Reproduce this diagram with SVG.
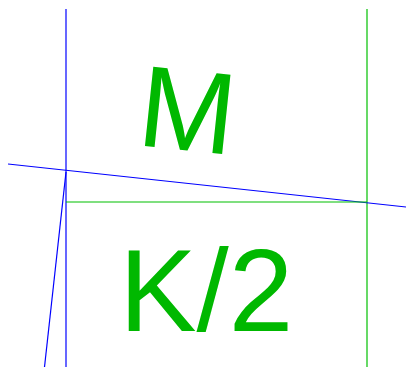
<svg xmlns="http://www.w3.org/2000/svg" width="406" height="367" viewBox="0 0 406 367">
<style>
.b{stroke:#0000ff;stroke-width:1.2;fill:none}
.g{stroke:#00c000;stroke-width:1.2;fill:none}
.t{fill:#00b800;font-family:"Liberation Sans",Arial,sans-serif;font-size:116px}
</style>
<g id="connectors">
<line class="b" x1="66" y1="9" x2="66" y2="367"/>
<line class="g" x1="367" y1="9" x2="367" y2="367"/>
<line class="b" x1="8" y1="164" x2="406" y2="207"/>
<line class="g" x1="66" y1="202" x2="367" y2="202"/>
<line class="b" x1="66" y1="172" x2="44.5" y2="367"/>
</g>
<g id="M"><text class="t" x="0" y="0" transform="translate(135.4,145.1) rotate(6)">M</text></g>
<g id="K2"><text class="t" x="119.2" y="331">K/2</text></g>
</svg>
